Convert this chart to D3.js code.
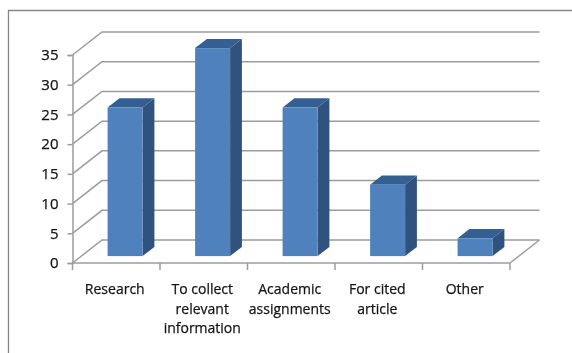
<!DOCTYPE html>
<html><head><meta charset="utf-8">
<script src="https://cdn.jsdelivr.net/npm/d3@7/dist/d3.min.js"></script>
<style>html,body{margin:0;padding:0;background:#fff;overflow:hidden}svg{display:block;filter:blur(.45px)}text{font-family:"Open Sans",sans-serif;fill:#141414;stroke:#141414;stroke-width:.25px}</style>
</head><body><svg id="c" width="572" height="353"></svg>
<script>
const categories=[["Research"],["To collect","relevant","information"],["Academic","assignments"],["For cited","article"],["Other"]];
const values=[25,35,25,12,3];
const yTicks=[0,5,10,15,20,25,30,35];

const svg=d3.select("#c");
const x0=72.5,x1=510,yB=263,yT=55,dx=29.5,dy=23;
const x=d3.scaleBand().domain(d3.range(values.length)).range([x0,x1]).paddingInner(0.6).paddingOuter(0.3);
const y=d3.scaleLinear().domain([0,35]).range([yB,yT]);
const grid="#9c9c9c";

svg.append("path").attr("d","M8.5,353V10.5H572").attr("fill","none").attr("stroke","#858585").attr("stroke-width",1.3);

// walls and floor
const line=d3.line();
svg.append("g").selectAll("path").data(yTicks).join("path")
  .attr("d",t=>line([[x0,y(t)],[x0+dx,y(t)-dy],[x1+dx,y(t)-dy]]))
  .attr("fill","none").attr("stroke",grid).attr("stroke-width",1.5);
svg.append("path").attr("d",line([[x1,yB],[x1+dx,yB-dy]])).attr("fill","none").attr("stroke",grid).attr("stroke-width",1.5);

// axes
const ax=svg.append("g").attr("transform",`translate(${x0},0)`)
  .call(d3.axisLeft(y).tickValues(yTicks).tickSize(5).tickPadding(9));
ax.selectAll("path,line").attr("stroke",grid).attr("stroke-width",1.5);
ax.selectAll("text").attr("font-size",15).attr("font-family",'"Open Sans",sans-serif').attr("fill","#141414");

const step=x.step();
const edges=d3.range(values.length+1).map(i=>x0+i*step);
svg.append("path").attr("d",line([[x0,yB],[x1,yB]])).attr("stroke",grid).attr("stroke-width",1.5);
svg.append("g").selectAll("line").data(edges).join("line")
  .attr("x1",d=>d).attr("x2",d=>d).attr("y1",yB).attr("y2",yB+7)
  .attr("stroke",grid).attr("stroke-width",1.5);

// bars
const ox=0.3*dx,oy=0.3*dy,bx=0.4*dx,by=0.4*dy;
const bars=svg.append("g").selectAll("g").data(values).join("g");
const L=(d,i)=>x(i)+ox, R=(d,i)=>x(i)+ox+x.bandwidth(), T=d=>y(d)-oy, B=()=>yB-oy;
bars.append("path").attr("fill","#2f527f").attr("d",(d,i)=>line([[R(d,i),T(d)],[R(d,i)+bx,T(d)-by],[R(d,i)+bx,B()-by],[R(d,i),B()]])+"Z");
bars.append("path").attr("fill","#345f92").attr("d",(d,i)=>line([[L(d,i),T(d)],[L(d,i)+bx,T(d)-by],[R(d,i)+bx,T(d)-by],[R(d,i),T(d)]])+"Z");
bars.append("rect").attr("fill","#4f81bd").attr("x",L).attr("y",T).attr("width",x.bandwidth()).attr("height",d=>B()-T(d));

// category labels
const lab=svg.append("g").selectAll("text").data(categories).join("text")
  .attr("text-anchor","middle").attr("font-size",14)
  .attr("transform",(d,i)=>`translate(${x0+(i+0.5)*step-1.5},294)`);
lab.selectAll("tspan").data(d=>d).join("tspan").attr("x",0).attr("y",(d,i)=>i*19.7).text(d=>d);
</script></body></html>
